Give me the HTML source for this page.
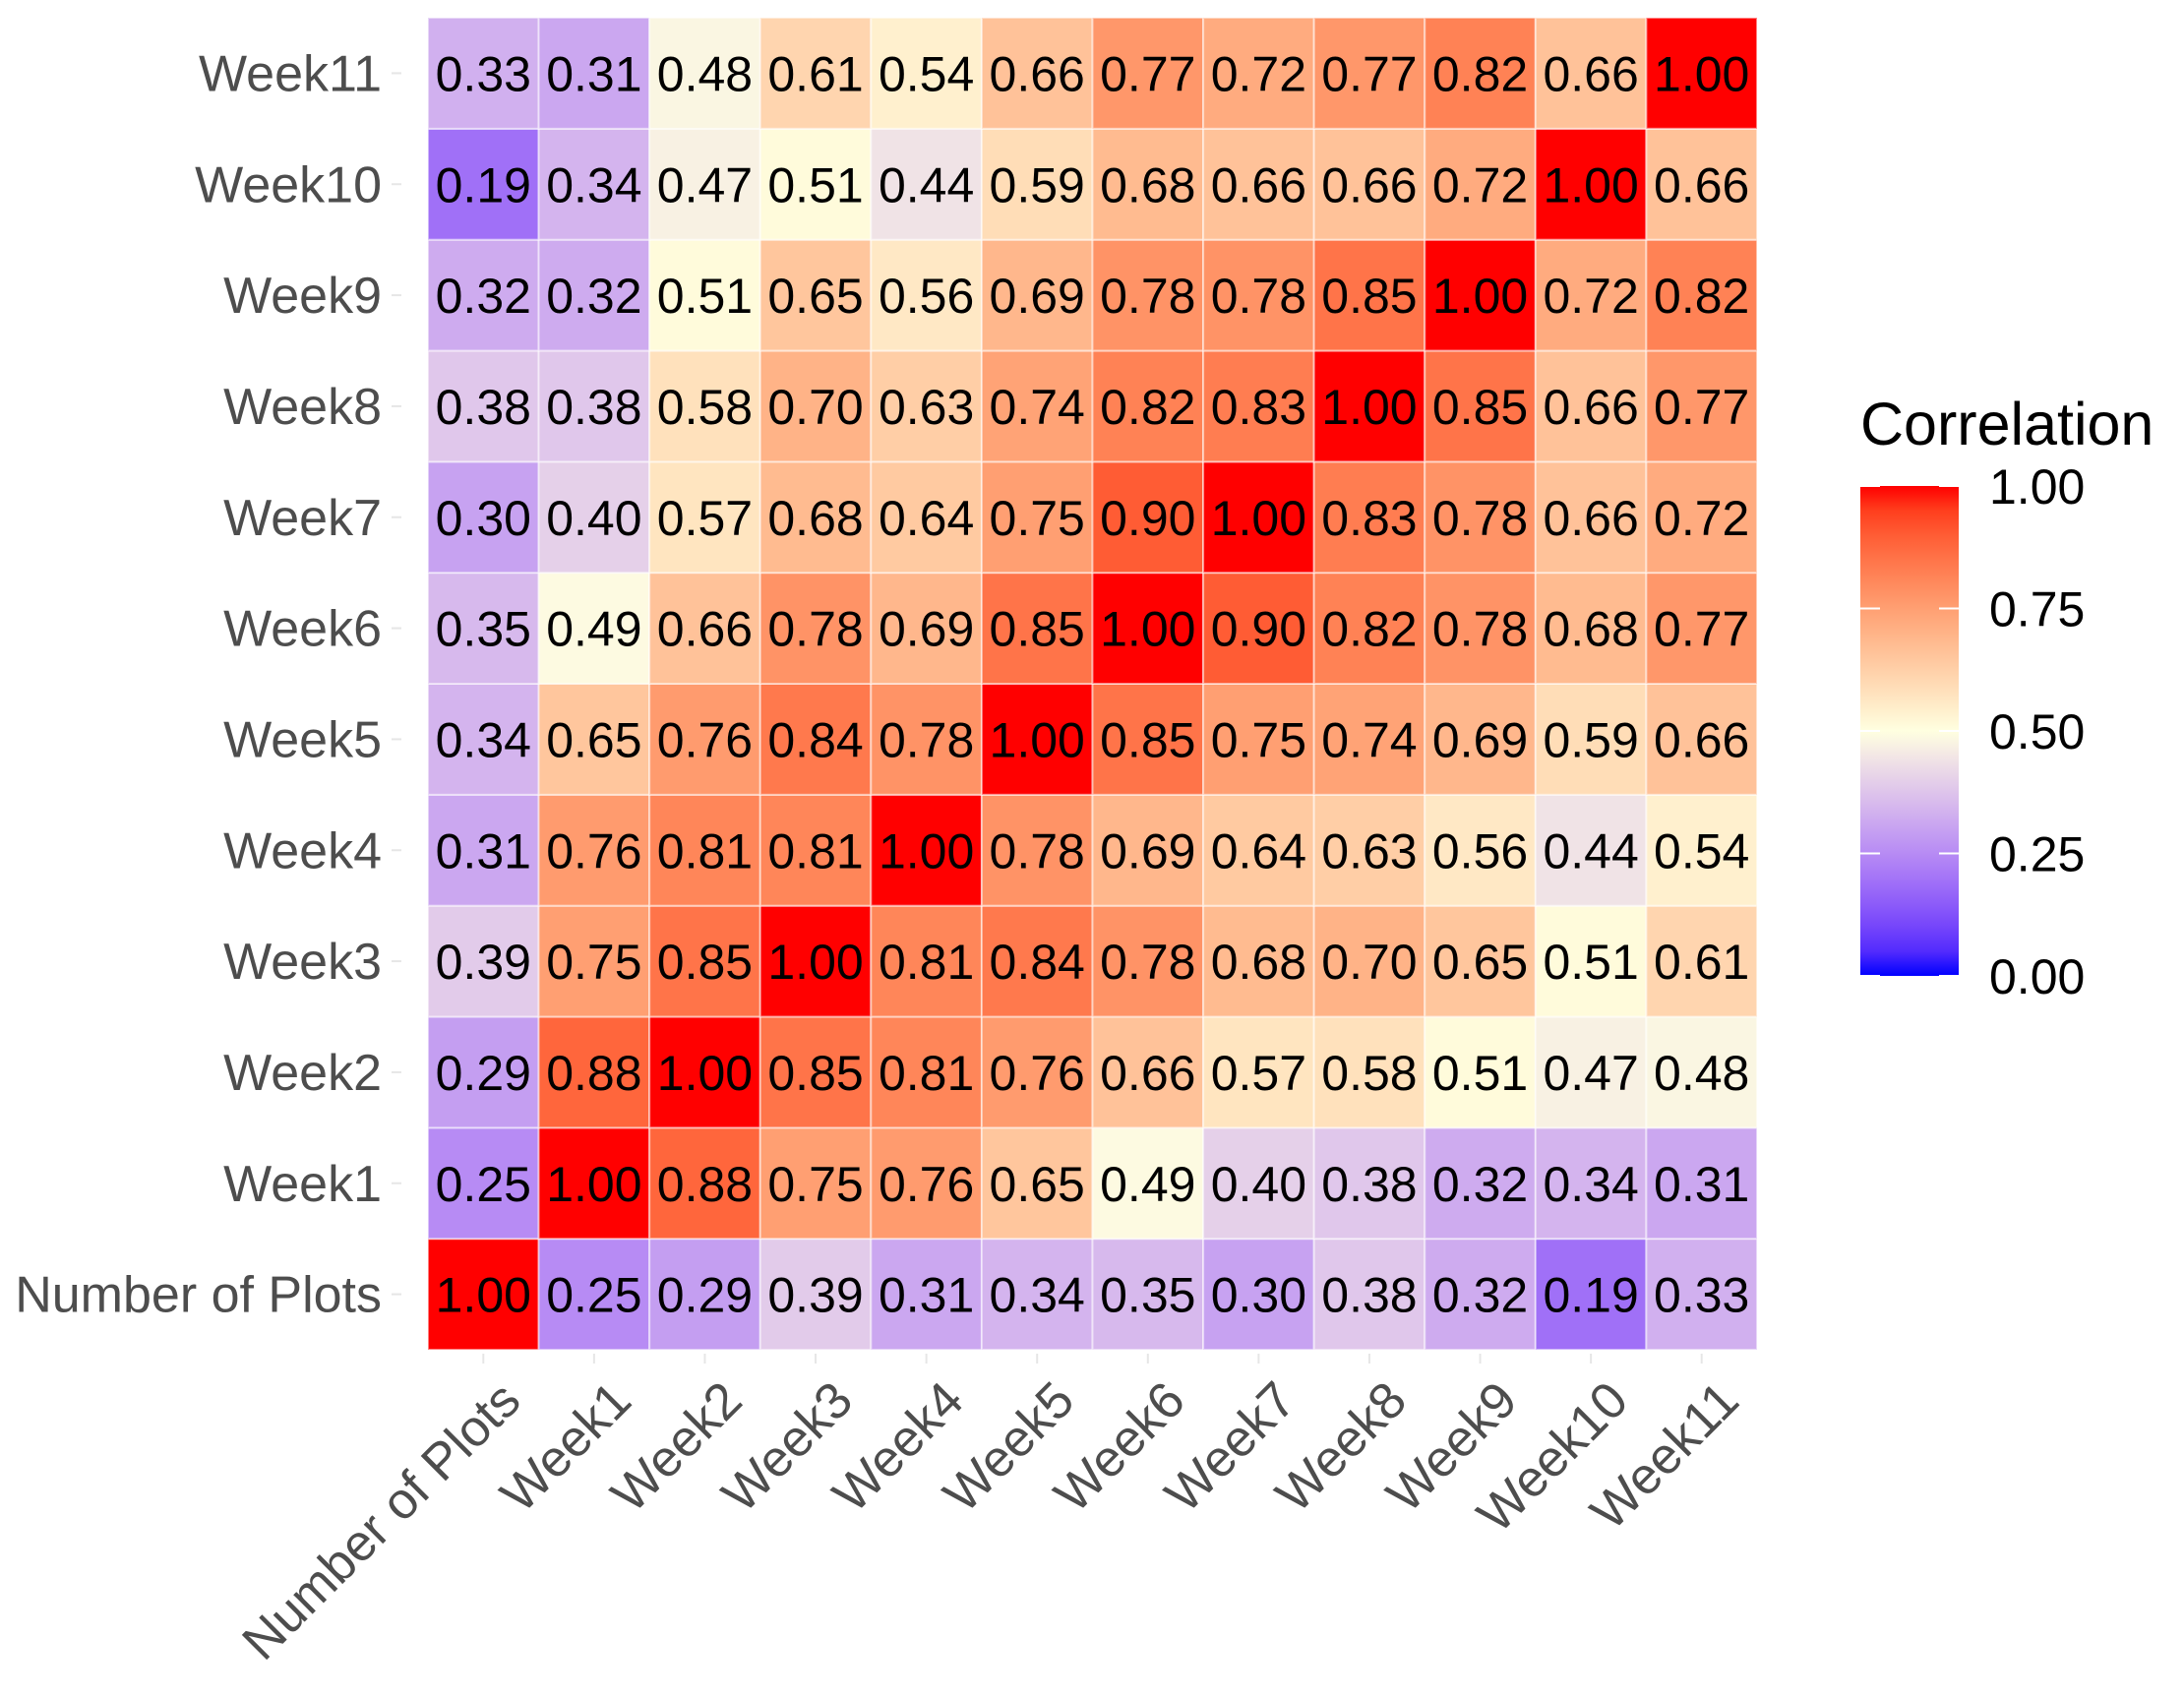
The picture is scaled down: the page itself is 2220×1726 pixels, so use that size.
<!DOCTYPE html>
<html><head><meta charset="utf-8"><style>html,body{margin:0;padding:0;background:#fff}svg{display:block}</style></head>
<body>
<svg id="chart" xmlns="http://www.w3.org/2000/svg" width="2220" height="1726" viewBox="0 0 2220 1726" font-family="Liberation Sans, sans-serif">
<rect width="2220" height="1726" fill="#fff"/>
<defs>
<linearGradient id="lg" x1="0" y1="1" x2="0" y2="0"></linearGradient>
</defs>
<g id="cells"></g><g id="xlabs"></g><g id="ylabs"></g><g id="legend"></g>
</svg>
<script>
const categories = ["Number of Plots","Week1","Week2","Week3","Week4","Week5","Week6","Week7","Week8","Week9","Week10","Week11"];
const rowNoP   = [1.00,0.25,0.29,0.39,0.31,0.34,0.35,0.30,0.38,0.32,0.19,0.33];
const rowWeek1 = [0.25,1.00,0.88,0.75,0.76,0.65,0.49,0.40,0.38,0.32,0.34,0.31];
const rowWeek2 = [0.29,0.88,1.00,0.85,0.81,0.76,0.66,0.57,0.58,0.51,0.47,0.48];
const rowWeek3 = [0.39,0.75,0.85,1.00,0.81,0.84,0.78,0.68,0.70,0.65,0.51,0.61];
const rowWeek4 = [0.31,0.76,0.81,0.81,1.00,0.78,0.69,0.64,0.63,0.56,0.44,0.54];
const rowWeek5 = [0.34,0.65,0.76,0.84,0.78,1.00,0.85,0.75,0.74,0.69,0.59,0.66];
const rowWeek6 = [0.35,0.49,0.66,0.78,0.69,0.85,1.00,0.90,0.82,0.78,0.68,0.77];
const rowWeek7 = [0.30,0.40,0.57,0.68,0.64,0.75,0.90,1.00,0.83,0.78,0.66,0.72];
const rowWeek8 = [0.38,0.38,0.58,0.70,0.63,0.74,0.82,0.83,1.00,0.85,0.66,0.77];
const rowWeek9 = [0.32,0.32,0.51,0.65,0.56,0.69,0.78,0.78,0.85,1.00,0.72,0.82];
const rowWeek10= [0.19,0.34,0.47,0.51,0.44,0.59,0.68,0.66,0.66,0.72,1.00,0.66];
const rowWeek11= [0.33,0.31,0.48,0.61,0.54,0.66,0.77,0.72,0.77,0.82,0.66,1.00];
const rows = [rowNoP,rowWeek1,rowWeek2,rowWeek3,rowWeek4,rowWeek5,rowWeek6,rowWeek7,rowWeek8,rowWeek9,rowWeek10,rowWeek11];
const legendTicks = [0,0.25,0.5,0.75,1];
const legendTickLabels = ["0.00","0.25","0.50","0.75","1.00"];

const NS="http://www.w3.org/2000/svg";
const L=435,R=1786,T=18,B=1372;
const n=categories.length, cw=(R-L)/n, ch=(B-T)/n;
const xPos=i=>L+i*cw, yPos=i=>B-(i+1)*ch;

function hex2rgb(h){return [1,3,5].map(k=>parseInt(h.substr(k,2),16));}
function toLin(c){c/=255;return c<=0.04045?c/12.92:Math.pow((c+0.055)/1.055,2.4);}
function fromLin(c){c=c<=0.0031308?12.92*c:1.055*Math.pow(c,1/2.4)-0.055;return Math.max(0,Math.min(255,Math.round(c*255)));}
function rgb2lab(rgb){const [r,g,b]=rgb.map(toLin);
 let x=(0.4124*r+0.3576*g+0.1805*b)/0.95047,y=0.2126*r+0.7152*g+0.0722*b,z=(0.0193*r+0.1192*g+0.9505*b)/1.08883;
 const f=t=>t>0.008856?Math.cbrt(t):7.787*t+16/116;x=f(x);y=f(y);z=f(z);return [116*y-16,500*(x-y),200*(y-z)];}
function lab2rgb(l){let y=(l[0]+16)/116,x=l[1]/500+y,z=y-l[2]/200;
 const fi=t=>t*t*t>0.008856?t*t*t:(t-16/116)/7.787;x=fi(x)*0.95047;y=fi(y);z=fi(z)*1.08883;
 const r=3.2406*x-1.5372*y-0.4986*z,g=-0.9689*x+1.8758*y+0.0415*z,b=0.0557*x-0.2040*y+1.0570*z;
 return [r,g,b].map(fromLin);}
const lowL=rgb2lab(hex2rgb("#0000ff")),midL=rgb2lab(hex2rgb("#ffffe0")),highL=rgb2lab(hex2rgb("#ff0000"));
function color(v){let a,b,t;if(v<0.5){a=lowL;b=midL;t=v/0.5;}else{a=midL;b=highL;t=(v-0.5)/0.5;}
 const c=lab2rgb(a.map((x,i)=>x+(b[i]-x)*t));return `rgb(${c[0]},${c[1]},${c[2]})`;}
function el(tag,attrs,parent){const e=document.createElementNS(NS,tag);for(const k in attrs)e.setAttribute(k,attrs[k]);parent.appendChild(e);return e;}

const cells=document.getElementById('cells');
rows.forEach((row,ri)=>{row.forEach((v,ci)=>{
 const r=el('rect',{x:xPos(ci),y:yPos(ri),width:cw,height:ch,fill:color(v),stroke:'#ffffff','stroke-opacity':0.5,'stroke-width':2},cells);
 
 
 const t=el('text',{x:xPos(ci)+cw/2,y:yPos(ri)+ch/2+18,'text-anchor':'middle','font-size':50,fill:'#000'},cells);
 t.textContent=v.toFixed(2);
 
 
});});

const yl=document.getElementById('ylabs');
categories.forEach((c,i)=>{
 const t=el('text',{x:388,y:yPos(i)+ch/2+18,'text-anchor':'end','font-size':52,fill:'#4d4d4d'},yl);
 t.textContent=c;
 
 
 el('line',{x1:398,x2:408,y1:yPos(i)+ch/2,y2:yPos(i)+ch/2,stroke:'#e6e6e6','stroke-width':2},yl);
});
const xl=document.getElementById('xlabs');
categories.forEach((c,i)=>{
 const cx=xPos(i)+cw/2;
 el('line',{x1:cx,x2:cx,y1:B+4,y2:B+14,stroke:'#e6e6e6','stroke-width':2},xl);
 const ax=cx+14, ay=1400;
 const t=el('text',{x:ax,y:ay,'text-anchor':'end','font-size':52,fill:'#4d4d4d',transform:`rotate(-45 ${ax} ${ay})`,dy:'0.72em'},xl);
 t.textContent=c;
 
 
});

const lg=document.getElementById('lg');
for(let k=0;k<=20;k++){el('stop',{offset:(k/20),'stop-color':color(k/20)},lg);}
const leg=document.getElementById('legend');
const LB0=992,LB1=494,LX=1891,LW=100;
const ly=v=>LB0+(LB1-LB0)*v;
const title=el('text',{x:1891,y:452,'font-size':61,fill:'#000'},leg);
title.textContent='Correlation';


const bar=el('rect',{x:LX,y:LB1,width:LW,height:LB0-LB1,fill:'url(#lg)'},leg);


legendTicks.forEach((v,i)=>{
 el('line',{x1:LX,x2:LX+20,y1:ly(v),y2:ly(v),stroke:'#fff','stroke-width':2},leg);
 el('line',{x1:LX+LW-20,x2:LX+LW,y1:ly(v),y2:ly(v),stroke:'#fff','stroke-width':2},leg);
 const t=el('text',{x:2022,y:ly(v)+18,'font-size':50,fill:'#000'},leg);
 t.textContent=legendTickLabels[i];
 
 
});
</script>
</body></html>
